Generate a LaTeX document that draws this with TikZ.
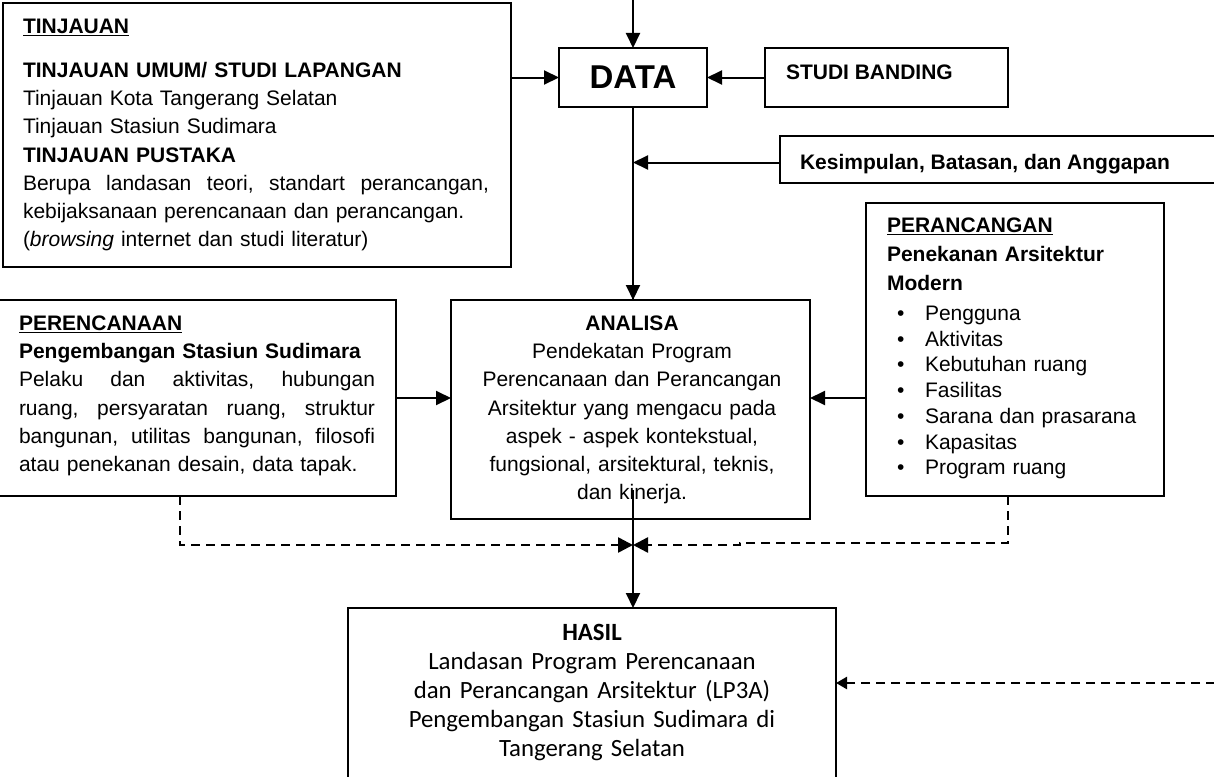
\documentclass[tikz,border=0pt]{standalone}
\usepackage{fontspec}
\setmainfont{Liberation Sans}
\newfontfamily\calibrifont{Carlito}
\usetikzlibrary{arrows.meta}
\newcommand\jline[2]{\leavevmode\hbox to #1{#2}}
\tikzset{
  box/.style={draw, line width=2pt, inner sep=0pt, outer sep=0pt, anchor=north west},
  txt/.style={inner sep=0pt, outer sep=0pt, align=left, font=\fontsize{21}{28.2}\selectfont},
  arr/.style={line width=2pt, -{Triangle[length=15pt,width=14pt]}},
  plainline/.style={line width=2pt},
  darr/.style={line width=2.5pt, dash pattern=on 9pt off 6pt, -{Triangle[length=15pt,width=15pt]}},
  darrsmall/.style={line width=2.5pt, dash pattern=on 9pt off 6pt, -{Triangle[length=11pt,width=12pt]}},
}
\begin{document}
\begin{tikzpicture}[x=1pt,y=-1pt]
\useasboundingbox (0,0) rectangle (1214,776);
\begin{scope}
\clip (0,0) rectangle (1214,776);
\fill[white] (0,0) rectangle (1214,776);

% boxes
\node[box, minimum width=508pt, minimum height=264pt] (tin) at (3,3) {};
\node[box, minimum width=148pt, minimum height=59pt, font=\bfseries\fontsize{33}{33}\selectfont] (data) at (559,48) {DATA};
\node[box, minimum width=243pt, minimum height=59pt] (studi) at (765,48) {};
\node[box, minimum width=460pt, minimum height=47pt] (kes) at (780,136) {};
\node[box, minimum width=298pt, minimum height=293pt] (peran) at (866,203) {};
\node[box, minimum width=359pt, minimum height=219pt] (analisa) at (451,300) {};
\node[box, minimum width=406pt, minimum height=196pt] (perenc) at (-10,300) {};
\node[box, line width=1.6pt, minimum width=488pt, minimum height=200pt] (hasil) at (348,608) {};

% texts
\node[txt, text width=470pt, anchor=base west] (tintext) at (23,33.5)
 {\textbf{\underline{TINJAUAN}}\\[15.8pt]
  \textbf{TINJAUAN UMUM/ STUDI LAPANGAN}\\
  Tinjauan Kota Tangerang Selatan\\
  Tinjauan Stasiun Sudimara\\
  \textbf{TINJAUAN PUSTAKA}\\
  \jline{466pt}{Berupa\hfill landasan\hfill teori,\hfill standart\hfill perancangan,}\\
  kebijaksanaan perencanaan dan perancangan.\\
  (\textit{browsing} internet dan studi literatur)};

\node[txt, anchor=base west, font=\bfseries\fontsize{21}{28.2}\selectfont] (studitext) at (786,79.5) {STUDI BANDING};
\node[txt, anchor=base west, font=\bfseries\fontsize{21}{28.2}\selectfont] (kestext) at (800,169) {Kesimpulan, Batasan, dan Anggapan};

\node[txt, text width=270pt, anchor=base west, font=\fontsize{21}{29}\selectfont] (perantext) at (887,232.5)
 {\textbf{\underline{PERANCANGAN}}\\
  \textbf{Penekanan Arsitektur}\\
  \textbf{Modern}};
\node[txt, text width=262pt, anchor=base west, font=\fontsize{21}{25.7}\selectfont] (peranlist) at (897,320.5)
 {\makebox[28pt][l]{\textbullet}Pengguna\\
  \makebox[28pt][l]{\textbullet}Aktivitas\\
  \makebox[28pt][l]{\textbullet}Kebutuhan ruang\\
  \makebox[28pt][l]{\textbullet}Fasilitas\\
  \makebox[28pt][l]{\textbullet}Sarana dan prasarana\\
  \makebox[28pt][l]{\textbullet}Kapasitas\\
  \makebox[28pt][l]{\textbullet}Program ruang};

\node[txt, text width=350pt, align=center, anchor=base] (antext) at (632,330.5)
 {\textbf{ANALISA}\\
  Pendekatan Program\\
  Perencanaan dan Perancangan\\
  Arsitektur yang mengacu pada\\
  aspek - aspek kontekstual,\\
  fungsional, arsitektural, teknis,\\
  dan kinerja.};

\node[txt, text width=360pt, anchor=base west] (pertext) at (19,330.5)
 {\textbf{\underline{PERENCANAAN}}\\
  \textbf{Pengembangan Stasiun Sudimara}\\
  \jline{356pt}{Pelaku\hfill dan\hfill aktivitas,\hfill hubungan}\\
  \jline{356pt}{ruang,\hfill persyaratan\hfill ruang,\hfill struktur}\\
  \jline{356pt}{bangunan,\hfill utilitas\hfill bangunan,\hfill filosofi}\\
  atau penekanan desain, data tapak.};

\node[txt, text width=480pt, align=center, anchor=base, font=\calibrifont\fontsize{24.8}{29.2}\selectfont] (hastext) at (592,640)
 {\textbf{HASIL}\\
  Landasan Program Perencanaan\\
  dan Perancangan Arsitektur (LP3A)\\
  Pengembangan Stasiun Sudimara di\\
  Tangerang Selatan};

% coordinates
\coordinate (top) at (633,-5);
\coordinate (ak) at (633,490);
\coordinate (pl) at (180,545);
\coordinate (pr) at (1008,543);
\coordinate (pj) at (740,543);
\coordinate (meet) at (633,545);
\coordinate (rr) at (1230,683);

% connectors
\draw[arr] (top) -- (data.north);
\draw[arr] (tin.east |- data.west) -- (data.west);
\draw[arr] (studi.west) -- (data.east);
\draw[plainline] (data.south) -- (data.south |- analisa.north);
\draw[arr] (data.south |- analisa.north) ++(0,-12) -- (data.south |- analisa.north);
\draw[arr] ([yshift=-3pt]kes.west) -- ([yshift=-3pt]kes.west -| data.south);
\draw[arr] (perenc.east) -- (perenc.east -| analisa.west);
\draw[arr] (peran.west |- perenc.east) -- (analisa.east |- perenc.east);
\draw[darr] (perenc.south -| pl) -- (pl) -- (meet);
\draw[darr] (peran.south -| pr) -- (pr) -- (pj) -- (pj |- meet) -- (meet);
\draw[arr] (ak) -- (ak |- hasil.north);
\draw[darrsmall] (rr) -- (rr -| hasil.east);
\end{scope}
\end{tikzpicture}
\end{document}
